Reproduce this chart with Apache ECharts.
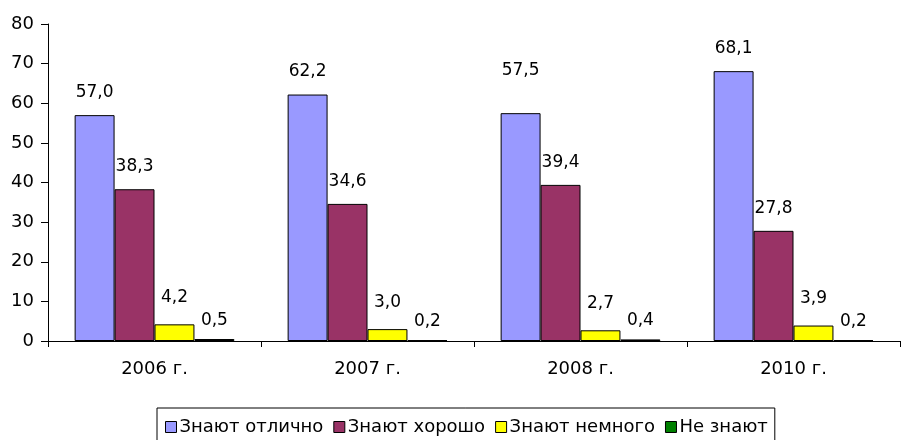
<!DOCTYPE html>
<html>
<head>
<meta charset="utf-8">
<script src="https://cdn.jsdelivr.net/npm/echarts@6/dist/echarts.min.js"></script>
<style>
  html, body { margin: 0; padding: 0; background: #fff; }
  #grafico { width: 902px; height: 440px; }
</style>
</head>
<body>
<div id="grafico"></div>
<script>
// Datos del gráfico
const categorias = ['2006 г.', '2007 г.', '2008 г.', '2010 г.'];
const series = ['Знают отлично', 'Знают хорошо', 'Знают немного', 'Не знают'];
const otlichno = [57.0, 62.2, 57.5, 68.1];
const khorosho = [38.3, 34.6, 39.4, 27.8];
const nemnogo = [4.2, 3.0, 2.7, 3.9];
const neZnayut = [0.5, 0.2, 0.4, 0.2];
const valores = [otlichno, khorosho, nemnogo, neZnayut];
const colores = ['#9999FF', '#993366', '#FFFF00', '#008000'];
const distancias = [14, 14, 18, 10];

const fuente = 'DejaVu Sans, sans-serif';

const grafico = echarts.init(document.getElementById('grafico'));

const option = {
    animation: false,
    backgroundColor: '#fff',
    grid: { left: 48, right: 2, top: 24, bottom: 99 },
    legend: {
        data: series,
        top: 408,
        left: 157,
        icon: 'rect',
        itemWidth: 11,
        itemHeight: 11,
        itemGap: 10,
        padding: [10, 7, 10, 8],
        borderColor: '#000',
        borderWidth: 1,
        borderRadius: 0,
        itemStyle: { borderColor: '#000', borderWidth: 1 },
        textStyle: { fontFamily: fuente, fontSize: 18, color: '#000', padding: [0, 0, 0, -2] }
    },
    xAxis: {
        type: 'category',
        data: categorias,
        axisLine: { lineStyle: { color: '#000', width: 1 } },
        axisTick: { show: true, length: 6, lineStyle: { color: '#000' } },
        axisLabel: { fontFamily: fuente, fontSize: 18, color: '#000', margin: 19 }
    },
    yAxis: {
        type: 'value',
        min: 0,
        max: 80,
        interval: 10,
        splitLine: { show: false },
        axisLine: { show: true, lineStyle: { color: '#000', width: 1 } },
        axisTick: { show: true, length: 7, lineStyle: { color: '#000' } },
        axisLabel: { fontFamily: fuente, fontSize: 18, color: '#000', margin: 14 }
    },
    series: series.map((nombre, i) => ({
        name: nombre,
        type: 'bar',
        barGap: '0%',
        barCategoryGap: '25%',
        data: valores[i].map((v, j) => {
            // etiqueta de 2008 desplazada hacia arriba como en el original
            if (i === 0 && j === 2) {
                return { value: v, label: { offset: [0, -20] } };
            }
            return v;
        }),
        itemStyle: { color: colores[i], borderColor: '#000', borderWidth: 1 },
        label: {
            show: true,
            position: 'top',
            distance: distancias[i],
            fontFamily: fuente,
            fontSize: 17,
            color: '#000',
            formatter: p => p.value.toFixed(1).replace('.', ',')
        }
    }))
};

grafico.setOption(option);
</script>
</body>
</html>
